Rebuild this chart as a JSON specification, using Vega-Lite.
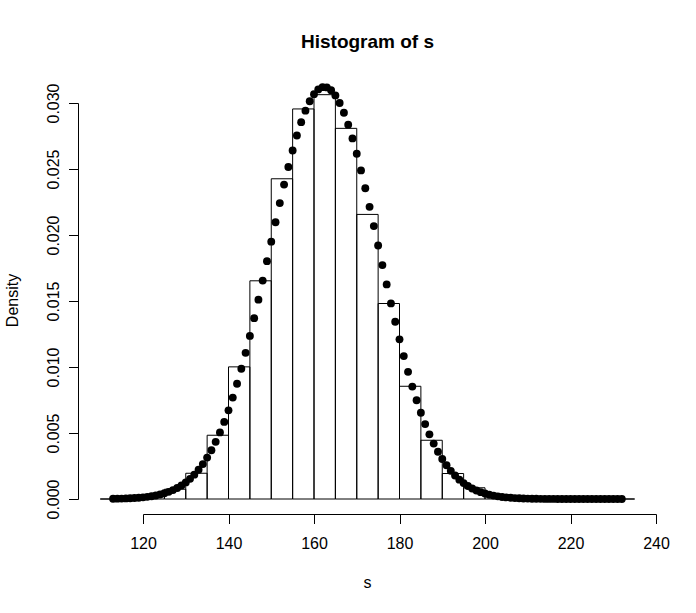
{
  "$schema": "https://vega.github.io/schema/vega-lite/v6.json",
  "width": 513,
  "height": 396,
  "autosize": {"type": "none"},
  "padding": {"left": 143, "top": 103, "right": 40, "bottom": 114},
  "background": "white",
  "config": {"view": {"stroke": null}, "font": "Liberation Sans"},
  "title": {
    "text": "Histogram of s",
    "font": "Liberation Sans",
    "fontSize": 19,
    "fontWeight": "bold",
    "color": "black",
    "anchor": "middle",
    "frame": "group",
    "baseline": "alphabetic",
    "dx": -32,
    "offset": 16
  },
  "datasets": {
    "bins": [
      {"lo": 110, "hi": 115, "density": 0},
      {"lo": 115, "hi": 120, "density": 0.00004},
      {"lo": 120, "hi": 125, "density": 0.00026},
      {"lo": 125, "hi": 130, "density": 0.00074},
      {"lo": 130, "hi": 135, "density": 0.00195},
      {"lo": 135, "hi": 140, "density": 0.00483},
      {"lo": 140, "hi": 145, "density": 0.01001},
      {"lo": 145, "hi": 150, "density": 0.01653},
      {"lo": 150, "hi": 155, "density": 0.02426},
      {"lo": 155, "hi": 160, "density": 0.02955},
      {"lo": 160, "hi": 165, "density": 0.03063},
      {"lo": 165, "hi": 170, "density": 0.02808},
      {"lo": 170, "hi": 175, "density": 0.02156},
      {"lo": 175, "hi": 180, "density": 0.01481},
      {"lo": 180, "hi": 185, "density": 0.00854},
      {"lo": 185, "hi": 190, "density": 0.00445},
      {"lo": 190, "hi": 195, "density": 0.00193},
      {"lo": 195, "hi": 200, "density": 0.00085},
      {"lo": 200, "hi": 205, "density": 0.00022},
      {"lo": 205, "hi": 210, "density": 0.00004},
      {"lo": 210, "hi": 215, "density": 0},
      {"lo": 215, "hi": 220, "density": 0},
      {"lo": 220, "hi": 225, "density": 0},
      {"lo": 225, "hi": 230, "density": 0},
      {"lo": 230, "hi": 235, "density": 0}
    ],
    "dens": [
      {"x": 113, "d": 0.0000178}, {"x": 114, "d": 0.000024}, {"x": 115, "d": 0.0000322},
      {"x": 116, "d": 0.0000429}, {"x": 117, "d": 0.0000567}, {"x": 118, "d": 0.0000747},
      {"x": 119, "d": 0.0000977}, {"x": 120, "d": 0.000127}, {"x": 121, "d": 0.000164},
      {"x": 122, "d": 0.000211}, {"x": 123, "d": 0.000269}, {"x": 124, "d": 0.000342},
      {"x": 125, "d": 0.000431}, {"x": 126, "d": 0.00054}, {"x": 127, "d": 0.000673},
      {"x": 128, "d": 0.000834}, {"x": 129, "d": 0.001026}, {"x": 130, "d": 0.001255},
      {"x": 131, "d": 0.001526}, {"x": 132, "d": 0.001843}, {"x": 133, "d": 0.002214},
      {"x": 134, "d": 0.002643}, {"x": 135, "d": 0.003135}, {"x": 136, "d": 0.003696},
      {"x": 137, "d": 0.004332}, {"x": 138, "d": 0.005045}, {"x": 139, "d": 0.005839},
      {"x": 140, "d": 0.006718}, {"x": 141, "d": 0.007682}, {"x": 142, "d": 0.008731},
      {"x": 143, "d": 0.009863}, {"x": 144, "d": 0.011074}, {"x": 145, "d": 0.012356},
      {"x": 146, "d": 0.013702}, {"x": 147, "d": 0.015103}, {"x": 148, "d": 0.016546},
      {"x": 149, "d": 0.018017}, {"x": 150, "d": 0.019497}, {"x": 151, "d": 0.02097},
      {"x": 152, "d": 0.022418}, {"x": 153, "d": 0.023819}, {"x": 154, "d": 0.025152},
      {"x": 155, "d": 0.026399}, {"x": 156, "d": 0.027537}, {"x": 157, "d": 0.02855},
      {"x": 158, "d": 0.02942}, {"x": 159, "d": 0.030131}, {"x": 160, "d": 0.030671},
      {"x": 161, "d": 0.031029}, {"x": 162, "d": 0.031201}, {"x": 163, "d": 0.031182},
      {"x": 164, "d": 0.030972}, {"x": 165, "d": 0.030577}, {"x": 166, "d": 0.030002},
      {"x": 167, "d": 0.029258}, {"x": 168, "d": 0.028359}, {"x": 169, "d": 0.027319},
      {"x": 170, "d": 0.026157}, {"x": 171, "d": 0.024892}, {"x": 172, "d": 0.023543},
      {"x": 173, "d": 0.022131}, {"x": 174, "d": 0.020677}, {"x": 175, "d": 0.019201},
      {"x": 176, "d": 0.017721}, {"x": 177, "d": 0.016255}, {"x": 178, "d": 0.014819},
      {"x": 179, "d": 0.013428}, {"x": 180, "d": 0.012094}, {"x": 181, "d": 0.010826},
      {"x": 182, "d": 0.009631}, {"x": 183, "d": 0.008515}, {"x": 184, "d": 0.007483},
      {"x": 185, "d": 0.006536}, {"x": 186, "d": 0.005674}, {"x": 187, "d": 0.004896},
      {"x": 188, "d": 0.004198}, {"x": 189, "d": 0.003579}, {"x": 190, "d": 0.003032},
      {"x": 191, "d": 0.002553}, {"x": 192, "d": 0.002135}, {"x": 193, "d": 0.001776},
      {"x": 194, "d": 0.001467}, {"x": 195, "d": 0.001206}, {"x": 196, "d": 0.000985},
      {"x": 197, "d": 0.000799}, {"x": 198, "d": 0.000645}, {"x": 199, "d": 0.000517},
      {"x": 200, "d": 0.000412}, {"x": 201, "d": 0.000326}, {"x": 202, "d": 0.000257},
      {"x": 203, "d": 0.000201}, {"x": 204, "d": 0.000156}, {"x": 205, "d": 0.000121},
      {"x": 206, "d": 0.0000926}, {"x": 207, "d": 0.0000707}, {"x": 208, "d": 0.0000537},
      {"x": 209, "d": 0.0000405}, {"x": 210, "d": 0.0000303}, {"x": 211, "d": 0.0000226},
      {"x": 212, "d": 0.0000167}, {"x": 213, "d": 0.0000123}, {"x": 214, "d": 0.000009},
      {"x": 215, "d": 0.0000066}, {"x": 216, "d": 0.0000047}, {"x": 217, "d": 0.0000034},
      {"x": 218, "d": 0.0000024}, {"x": 219, "d": 0.0000017}, {"x": 220, "d": 0.0000012},
      {"x": 221, "d": 0.00000085}, {"x": 222, "d": 0.0000006}, {"x": 223, "d": 0.0000004},
      {"x": 224, "d": 0.0000003}, {"x": 225, "d": 0.0000002}, {"x": 226, "d": 0.00000014},
      {"x": 227, "d": 0.0000001}, {"x": 228, "d": 0.00000007}, {"x": 229, "d": 0.00000005},
      {"x": 230, "d": 0.00000003}, {"x": 231, "d": 0.00000002}, {"x": 232, "d": 0.00000001}
    ]
  },
  "layer": [
    {
      "data": {"name": "bins"},
      "mark": {"type": "rect", "filled": false, "stroke": "black", "strokeWidth": 1},
      "encoding": {
        "x": {
          "field": "lo", "type": "quantitative",
          "scale": {"domain": [120, 240], "nice": false, "zero": false},
          "axis": {
            "orient": "bottom", "offset": 15,
            "values": [120, 140, 160, 180, 200, 220, 240],
            "format": "d", "grid": false,
            "domainColor": "black", "domainWidth": 1,
            "tickColor": "black", "tickWidth": 1, "tickSize": 9.5,
            "labelFont": "Liberation Sans", "labelFontSize": 16, "labelColor": "black",
            "labelPadding": 12, "labelFlush": false, "labelOverlap": false,
            "title": "s", "titleFont": "Liberation Sans", "titleFontSize": 16,
            "titleFontWeight": "normal", "titleColor": "black",
            "titleX": 224, "titleY": 73.4, "titleAlign": "center", "titleBaseline": "alphabetic"
          }
        },
        "x2": {"field": "hi"},
        "y": {
          "field": "density", "type": "quantitative",
          "scale": {"domain": [0, 0.03], "nice": false, "zero": false},
          "axis": {
            "orient": "left", "offset": 65,
            "values": [0, 0.005, 0.01, 0.015, 0.02, 0.025, 0.03],
            "format": ".3f", "grid": false,
            "domainColor": "black", "domainWidth": 1,
            "tickColor": "black", "tickWidth": 1, "tickSize": 9.5,
            "labelFont": "Liberation Sans", "labelFontSize": 16, "labelColor": "black",
            "labelAngle": -90, "labelAlign": "center", "labelBaseline": "alphabetic",
            "labelPadding": 10, "labelFlush": false, "labelOverlap": false,
            "title": "Density", "titleFont": "Liberation Sans", "titleFontSize": 16,
            "titleFontWeight": "normal", "titleColor": "black",
            "titleAngle": -90, "titleX": -61, "titleY": 197,
            "titleAlign": "center", "titleBaseline": "alphabetic"
          }
        },
        "y2": {"datum": 0}
      }
    },
    {
      "data": {"name": "dens"},
      "mark": {"type": "point", "shape": "circle", "filled": true, "color": "black", "opacity": 1, "size": 62, "strokeWidth": 0},
      "encoding": {
        "x": {"field": "x", "type": "quantitative"},
        "y": {"field": "d", "type": "quantitative"}
      }
    }
  ]
}
